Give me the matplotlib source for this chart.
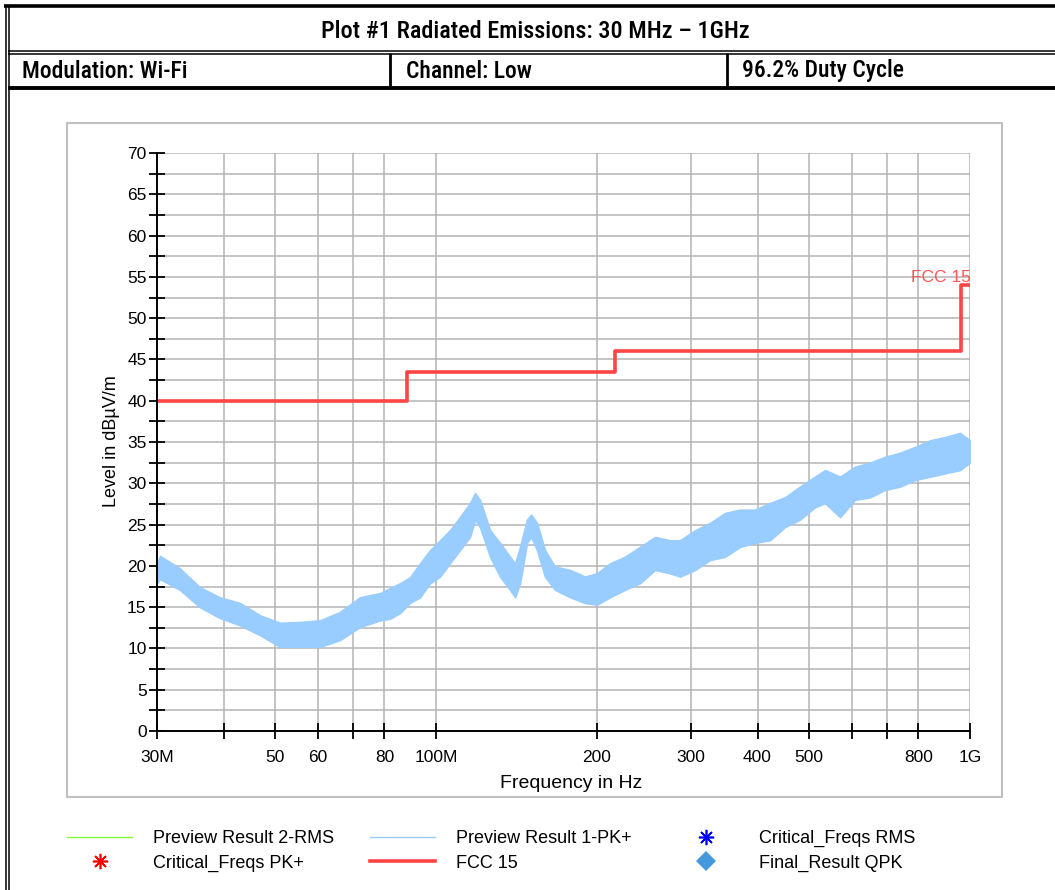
import matplotlib
matplotlib.use("Agg")
import matplotlib.pyplot as plt
from matplotlib.lines import Line2D
from matplotlib.patches import Rectangle
from matplotlib import font_manager

# FCC 15 limit line (MHz, dBuV/m)
limit_freq = [30, 88, 216, 960, 1000]
limit_level = [40, 43.5, 46, 54, 54]

# Preview Result 1-PK+ trace, read as upper / lower edge of the noisy band
trace_freq = [30.0, 30.4, 33.1, 36.1, 39.3, 42.9, 46.8, 51.0, 55.6, 60.6,
              66.0, 72.0, 78.5, 82.0, 85.6, 89.3, 93.3, 97.4, 101.7, 106.1,
              110.8, 115.7, 118.3, 120.8, 126.2, 131.7, 137.5, 140.6, 143.6, 148.0,
              150.6, 154.5, 159.9, 167.0, 178.2, 190.1, 200.2, 211.7, 225.8, 240.9,
              257.0, 274.2, 286.3, 305.4, 325.8, 347.6, 370.8, 395.6, 422.0, 450.2,
              480.3, 512.4, 535.2, 570.9, 609.0, 649.7, 693.1, 739.4, 788.9, 841.6,
              897.8, 957.8, 1000.0]
trace_upper = [20.3, 21.2, 19.7, 17.4, 16.2, 15.5, 14.0, 13.1, 13.2, 13.4,
               14.4, 16.2, 16.7, 17.3, 17.9, 18.6, 20.3, 21.9, 23.1, 24.3,
               25.9, 27.6, 28.8, 28.0, 24.3, 22.8, 21.1, 20.3, 22.3, 25.6,
               26.2, 25.2, 21.9, 19.9, 19.5, 18.7, 19.1, 20.3, 21.1, 22.3,
               23.5, 23.1, 23.1, 24.3, 25.2, 26.4, 26.8, 26.8, 27.6, 28.3,
               29.6, 30.8, 31.6, 30.8, 32.0, 32.5, 33.2, 33.7, 34.4, 35.2,
               35.6, 36.1, 35.2]
trace_lower = [17.9, 18.4, 17.1, 15.0, 13.7, 12.8, 11.6, 10.2, 10.2, 10.2,
               11.0, 12.6, 13.4, 13.6, 14.3, 15.5, 16.2, 17.9, 18.7, 20.3,
               21.9, 23.5, 25.6, 24.7, 21.1, 18.7, 17.1, 16.2, 17.9, 22.8,
               23.5, 21.9, 18.7, 17.1, 16.2, 15.5, 15.3, 16.2, 17.1, 17.9,
               19.5, 19.1, 18.7, 19.5, 20.7, 21.1, 22.3, 22.8, 23.1, 24.7,
               25.6, 27.1, 27.6, 25.9, 28.0, 28.3, 29.2, 29.6, 30.4, 30.8,
               31.2, 31.6, 32.5]

x_ticks = [30, 40, 50, 60, 70, 80, 100, 200, 300, 400, 500, 600, 700, 800, 1000]
x_labels = ["30M", "", "50", "60", "", "80", "100M", "200", "300", "400", "500",
            "", "", "800", "1G"]

W, H = 1055, 890
names = {f.name for f in font_manager.fontManager.ttflist}
head_font = "Liberation Sans"
for cand in ["Liberation Sans Narrow", "Roboto Condensed", "Open Sans Condensed"]:
    if cand in names:
        head_font = cand
        break

plt.rcParams["font.family"] = ["Liberation Sans", "DejaVu Sans"]

fig = plt.figure(figsize=(W / 100, H / 100), dpi=100)


def fx(x):
    return x / W


def fy(y):
    return 1 - y / H


def line(x0, y0, x1, y1, lw, color="black"):
    fig.add_artist(Line2D([fx(x0), fx(x1)], [fy(y0), fy(y1)], lw=lw, color=color,
                          transform=fig.transFigure, solid_capstyle="butt"))


# table borders of the report header
line(4, 6, W, 6, 2.6)
line(5.5, 5, 5.5, H, 1.1)
line(8.5, 5, 8.5, H, 1.1)
line(8, 50.5, W, 50.5, 1.1)
line(8, 53.5, W, 53.5, 1.1)
line(8, 88, W, 88, 2.8)
line(390, 53, 390, 88, 2.0)
line(727, 53, 727, 88, 2.0)

hfam = [head_font, "DejaVu Sans"]
hsize = 17 if head_font != "Liberation Sans" else 13
fig.text(fx(535), fy(31), "Plot #1 Radiated Emissions: 30 MHz \u2013 1GHz",
         ha="center", va="center", fontsize=hsize + 0.5, family=hfam, weight=500)
fig.text(fx(22), fy(71), "Modulation: Wi-Fi", ha="left", va="center",
         fontsize=hsize, family=hfam, weight=500)
fig.text(fx(406), fy(71), "Channel: Low", ha="left", va="center",
         fontsize=hsize, family=hfam, weight=500)
fig.text(fx(742), fy(71), "96.2% Duty Cycle", ha="left", va="center",
         fontsize=hsize, family=hfam, weight=500)

# grey frame round the chart
fig.add_artist(Rectangle((fx(67), fy(797)), fx(935), 674 / H, fill=False,
                         ec="#c0c0c0", lw=1.5, transform=fig.transFigure))

ax = fig.add_axes([fx(157), fy(731), fx(813), (731 - 153) / H])
ax.set_xscale("log")
ax.set_xlim(30, 1000)
ax.set_ylim(0, 70)

ax.fill_between(trace_freq, trace_lower, trace_upper, color="#99ccff", lw=1.2,
                ec="#99ccff", zorder=3)
ax.plot(limit_freq, limit_level, drawstyle="steps-post", color="#ff4444", lw=2.6,
        zorder=4)
ax.text(1003, 54.0, "FCC 15", color="#ff5555", ha="right", va="bottom", fontsize=12.5)

ax.set_xticks(x_ticks)
ax.set_xticklabels(x_labels)
ax.xaxis.set_minor_locator(matplotlib.ticker.NullLocator())
ax.set_yticks(range(0, 71, 5))
ax.set_yticks([y + 2.5 for y in range(0, 70, 5)], minor=True)
ax.tick_params(axis="both", which="both", direction="inout", length=11, width=1.3,
               labelsize=12.5, color="black")
ax.tick_params(axis="x", pad=8)
ax.tick_params(axis="y", pad=2)
ax.grid(True, which="both", color="#b4b4b4", lw=1.1)
ax.set_axisbelow(True)
for s in ["top", "right"]:
    ax.spines[s].set_visible(False)
for s in ["left", "bottom"]:
    ax.spines[s].set_linewidth(1.4)
    ax.spines[s].set_zorder(5)

fig.text(fx(571), fy(784), "Frequency in Hz", ha="center", va="center", fontsize=14)
fig.text(fx(111), fy(441), "Level in dB\u00b5V/m", ha="center", va="center",
         rotation=90, fontsize=13)

# legend, one block per column
columns = [
    ([Line2D([], [], color="#80ff40", lw=1.0),
      Line2D([], [], color="red", ls="none", marker=(8, 2, 0), ms=11, mew=1.2)],
     ["Preview Result 2-RMS", "Critical_Freqs PK+"], 67),
    ([Line2D([], [], color="#99ccff", lw=1.0),
      Line2D([], [], color="#ff4444", lw=2.6)],
     ["Preview Result 1-PK+", "FCC 15"], 370),
    ([Line2D([], [], color="blue", ls="none", marker=(8, 2, 0), ms=11, mew=1.2),
      Line2D([], [], color="#4499dd", ls="none", marker="D", ms=10, mew=0)],
     ["Critical_Freqs RMS", "Final_Result QPK"], 673),
]
for hs, ls_, x0 in columns:
    fig.legend(hs, ls_, loc="upper left", bbox_to_anchor=(fx(x0), fy(830)),
               frameon=False, fontsize=13, handlelength=3.6, handletextpad=1.15,
               labelspacing=0.42, borderaxespad=0, borderpad=0)

fig.savefig("out.png", dpi=100)
